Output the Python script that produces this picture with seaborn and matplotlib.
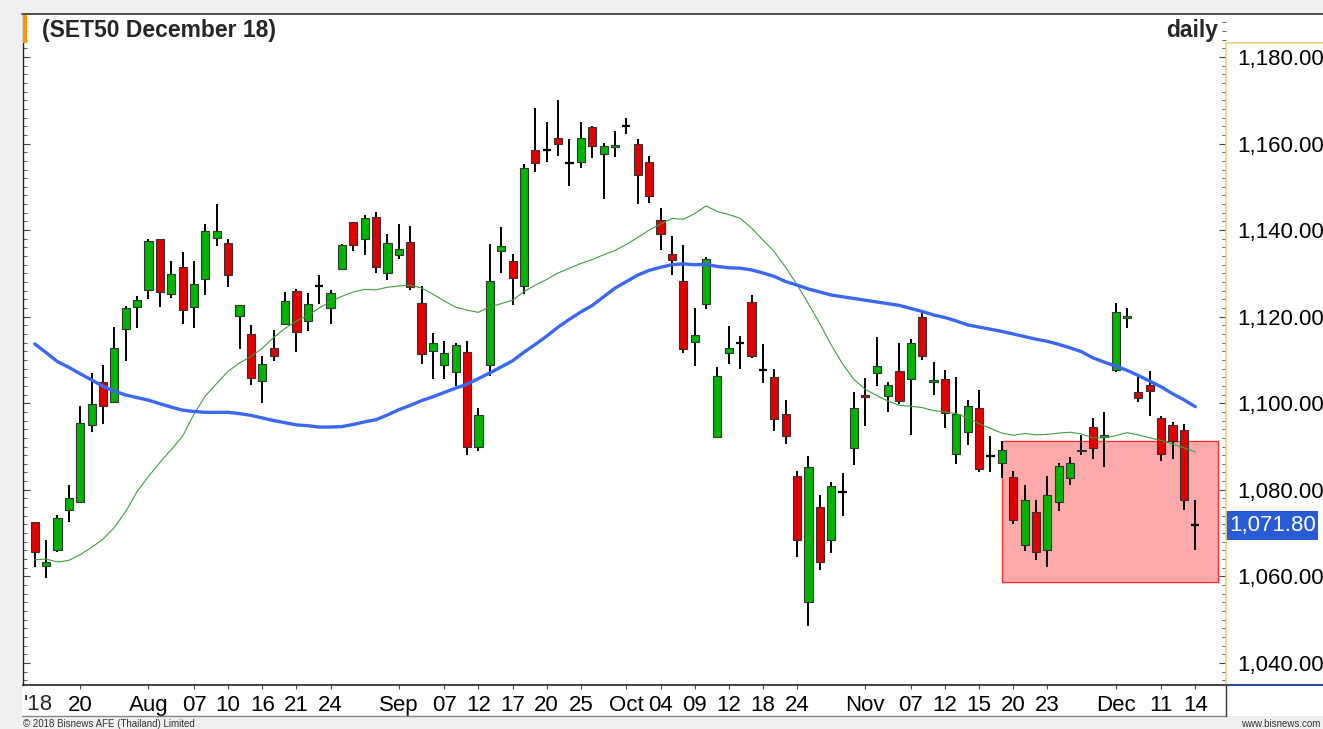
import numpy as np
import pandas as pd
import matplotlib
matplotlib.use("Agg")
import matplotlib.pyplot as plt
import matplotlib.transforms as mtransforms
from matplotlib.patches import Rectangle
from matplotlib.lines import Line2D
from matplotlib.ticker import MultipleLocator, FuncFormatter
import seaborn as sns

# trading days (Thai holidays skipped)
jul_days = [16, 17, 18, 19, 20, 23, 24, 25, 26, 31]
aug_days = [1, 2, 3, 6, 7, 8, 9, 10, 14, 15, 16, 17, 20, 21, 22, 23, 24, 27, 28, 29, 30, 31]
sep_days = [3, 4, 5, 6, 7, 10, 11, 12, 13, 14, 17, 18, 19, 20, 21, 24, 25, 26, 27, 28]
oct_days = [1, 2, 3, 4, 5, 8, 9, 10, 11, 12, 16, 17, 18, 19, 22, 24, 25, 26, 29, 30, 31]
nov_days = [1, 2, 5, 6, 7, 8, 9, 12, 13, 14, 15, 16, 19, 20, 21, 22, 23, 26, 27, 28, 29, 30]
dec_days = [3, 4, 6, 7, 11, 12, 13, 14]

# daily OHLC
open_ = [1072.5, 1062.5, 1066.2, 1075.4, 1077.1, 1095.0, 1104.9, 1100.3, 1117.1, 1122.2,
         1126.2, 1137.9, 1125.3, 1131.4, 1122.2, 1128.7, 1138.1, 1137.0, 1120.1, 1116.0,
         1105.1, 1112.8, 1118.2, 1125.9, 1119.0, 1127.0, 1121.9, 1131.0, 1141.9, 1137.9,
         1143.0, 1130.1, 1134.2, 1137.2, 1123.1, 1112.0, 1108.8, 1107.2, 1111.8, 1090.0,
         1108.9, 1135.1, 1132.9, 1127.2, 1158.5, 1158.5, 1161.2, 1155.4, 1155.8, 1163.9,
         1157.5, 1159.2, 1164.1, 1160.0, 1155.7, 1142.3, 1134.4, 1128.2, 1114.1, 1123.0,
         1092.2, 1111.5, 1113.9, 1123.4, 1107.7, 1106.1, 1097.4, 1083.3, 1054.0, 1076.0,
         1068.3, 1079.6, 1089.7, 1102.0, 1107.0, 1101.7, 1107.5, 1105.7, 1120.0, 1104.9,
         1105.7, 1088.2, 1093.3, 1099.0, 1087.7, 1086.3, 1083.0, 1067.2, 1074.9, 1066.2,
         1077.1, 1082.7, 1088.9, 1094.6, 1092.3, 1107.7, 1119.8, 1102.5, 1104.3, 1096.7,
         1095.0, 1093.8, 1071.8]
high = [1072.5, 1068.3, 1074.2, 1081.2, 1099.3, 1107.0, 1108.9, 1117.5, 1122.4, 1124.8,
        1137.9, 1137.9, 1132.8, 1135.0, 1132.8, 1141.4, 1146.1, 1137.9, 1122.8, 1118.1,
        1111.0, 1117.0, 1125.8, 1126.5, 1125.4, 1129.6, 1126.1, 1136.8, 1141.9, 1143.5,
        1144.2, 1139.1, 1141.4, 1141.0, 1127.1, 1116.3, 1114.3, 1114.0, 1114.3, 1099.0,
        1136.7, 1140.7, 1134.4, 1155.2, 1168.1, 1165.0, 1170.0, 1161.1, 1165.0, 1164.1,
        1160.2, 1162.9, 1166.0, 1161.0, 1157.2, 1145.0, 1138.6, 1136.5, 1122.1, 1133.9,
        1108.4, 1117.9, 1115.6, 1125.0, 1113.8, 1108.0, 1100.7, 1084.4, 1087.9, 1078.7,
        1081.9, 1083.9, 1102.7, 1105.8, 1115.3, 1105.0, 1114.0, 1114.8, 1121.1, 1109.6,
        1107.6, 1106.0, 1100.8, 1103.0, 1092.5, 1091.3, 1084.3, 1081.0, 1077.7, 1083.1,
        1086.3, 1087.5, 1092.6, 1096.6, 1098.0, 1123.1, 1122.0, 1106.0, 1107.4, 1097.1,
        1095.7, 1095.2, 1077.7]
low = [1062.2, 1059.6, 1065.7, 1072.5, 1077.1, 1093.4, 1095.2, 1100.3, 1109.7, 1117.3,
       1124.1, 1122.2, 1124.2, 1118.2, 1117.3, 1125.1, 1136.4, 1126.8, 1112.6, 1104.1,
       1100.1, 1109.7, 1118.2, 1111.9, 1116.8, 1123.0, 1118.4, 1130.8, 1135.1, 1134.2,
       1130.1, 1128.5, 1133.4, 1126.2, 1109.1, 1105.6, 1105.6, 1103.9, 1088.1, 1088.9,
       1106.4, 1130.1, 1122.6, 1125.2, 1153.4, 1155.7, 1157.2, 1150.1, 1154.4, 1156.7,
       1147.3, 1156.9, 1162.3, 1146.0, 1146.3, 1135.3, 1129.7, 1111.7, 1108.7, 1121.8,
       1092.0, 1109.0, 1108.0, 1110.5, 1104.6, 1093.7, 1090.5, 1064.5, 1048.5, 1061.5,
       1065.5, 1074.0, 1085.7, 1094.8, 1104.0, 1098.0, 1099.9, 1092.7, 1110.0, 1102.0,
       1094.3, 1085.9, 1090.3, 1084.0, 1084.2, 1082.7, 1072.0, 1065.8, 1063.7, 1062.2,
       1075.0, 1081.1, 1088.0, 1087.1, 1085.3, 1107.3, 1117.3, 1100.2, 1097.1, 1086.6,
       1087.1, 1075.4, 1066.2]
close = [1065.7, 1063.4, 1073.6, 1078.0, 1095.4, 1099.8, 1099.4, 1112.8, 1121.9, 1123.9,
         1137.4, 1125.8, 1129.8, 1121.6, 1127.5, 1139.8, 1139.9, 1129.6, 1122.6, 1105.8,
         1109.1, 1110.8, 1123.6, 1116.5, 1123.0, 1127.0, 1125.5, 1136.6, 1136.6, 1142.9,
         1131.4, 1137.0, 1135.7, 1126.8, 1111.4, 1113.9, 1111.7, 1113.5, 1090.0, 1097.3,
         1128.2, 1136.3, 1128.9, 1154.3, 1155.6, 1158.5, 1159.8, 1155.4, 1161.3, 1159.4,
         1159.4, 1159.6, 1164.1, 1152.8, 1147.8, 1139.2, 1133.0, 1112.6, 1115.7, 1133.3,
         1106.2, 1112.7, 1113.9, 1110.9, 1107.7, 1096.3, 1092.4, 1068.4, 1085.3, 1063.3,
         1080.8, 1079.6, 1099.0, 1101.4, 1108.5, 1104.2, 1100.5, 1113.9, 1110.8, 1105.3,
         1097.7, 1097.5, 1099.3, 1084.7, 1087.7, 1089.3, 1073.1, 1077.7, 1065.7, 1078.8,
         1085.6, 1086.2, 1089.3, 1089.6, 1092.7, 1121.1, 1120.2, 1101.2, 1102.9, 1088.3,
         1091.2, 1077.7, 1071.8]

# moving averages (thin green, thick blue)
ma_fast = [1063.8, 1064.0, 1063.3, 1063.7, 1065.0, 1066.7, 1068.6, 1071.3, 1075.0, 1079.6,
           1083.1, 1086.3, 1089.3, 1092.4, 1097.5, 1101.7, 1104.6, 1107.4, 1109.3, 1110.8,
           1112.7, 1115.2, 1117.3, 1119.0, 1120.3, 1122.0, 1123.5, 1124.7, 1125.7, 1126.3,
           1126.2, 1126.8, 1127.1, 1127.3, 1126.6, 1125.2, 1123.6, 1122.2, 1121.5, 1121.0,
           1122.3, 1123.0, 1123.8, 1125.8, 1127.3, 1128.6, 1130.1, 1131.2, 1132.3, 1133.2,
           1134.3, 1135.3, 1136.7, 1138.3, 1140.0, 1141.4, 1142.7, 1142.5, 1143.8, 1145.6,
           1144.3, 1143.6, 1142.7, 1140.5, 1137.7, 1135.0, 1131.4, 1127.4, 1123.0, 1118.4,
           1113.5, 1109.1, 1105.5, 1103.2, 1101.8, 1100.5, 1099.5, 1099.3, 1099.0, 1098.3,
           1098.0, 1097.6, 1096.6, 1095.3, 1094.2, 1093.1, 1092.6, 1093.0, 1092.7, 1092.8,
           1093.1, 1093.3, 1092.9, 1092.0, 1092.0, 1092.5, 1093.2, 1092.7, 1092.0, 1091.4,
           1090.6, 1089.7, 1088.8]
ma_slow = [1113.7, 1111.7, 1109.6, 1108.3, 1106.8, 1105.4, 1103.9, 1102.8, 1101.9, 1101.3,
           1100.7, 1099.9, 1099.1, 1098.4, 1098.1, 1097.9, 1097.9, 1097.9, 1097.6, 1097.2,
           1096.6, 1096.0, 1095.5, 1095.0, 1094.8, 1094.5, 1094.5, 1094.6, 1095.1, 1095.7,
           1096.2, 1097.3, 1098.5, 1099.5, 1100.6, 1101.5, 1102.5, 1103.5, 1104.4, 1105.7,
           1107.0, 1108.4, 1109.8, 1111.8, 1113.6, 1115.5, 1117.6, 1119.4, 1121.1, 1122.6,
           1124.6, 1126.6, 1128.1, 1129.6, 1130.7, 1131.4, 1132.0, 1132.2, 1132.0, 1132.1,
           1131.6, 1131.3, 1131.2, 1130.8, 1130.1, 1129.3, 1128.1, 1127.3, 1126.4, 1125.7,
           1125.0, 1124.6, 1124.2, 1123.8, 1123.4, 1123.0, 1122.6, 1121.9, 1121.2, 1120.4,
           1119.8, 1119.0, 1118.1, 1117.6, 1117.1, 1116.6, 1116.0, 1115.4, 1114.8, 1114.3,
           1113.6, 1112.8, 1111.9, 1110.5, 1109.5, 1108.6, 1107.6, 1106.4, 1105.1, 1103.8,
           1102.2, 1100.8, 1099.2]

tick_dates = ['2018-07-20', '2018-08-01', '2018-08-07', '2018-08-10', '2018-08-16', '2018-08-21',
              '2018-08-24', '2018-09-03', '2018-09-07', '2018-09-12', '2018-09-17', '2018-09-20',
              '2018-09-25', '2018-10-01', '2018-10-04', '2018-10-09', '2018-10-12', '2018-10-18',
              '2018-10-24', '2018-11-01', '2018-11-07', '2018-11-12', '2018-11-15', '2018-11-20',
              '2018-11-23', '2018-12-03', '2018-12-11', '2018-12-14']
tick_labels = ['20', 'Aug', '07', '10', '16', '21', '24', 'Sep', '07', '12', '17', '20', '25',
               'Oct', '04', '09', '12', '18', '24', 'Nov', '07', '12', '15', '20', '23',
               'Dec', '11', '14']

# highlighted box (from Nov 19 to past the last bar)
zone_start = '2018-11-19'
zone_lo, zone_hi = 1058.7, 1091.3
last_price = 1071.80

dates = ([f'2018-07-{d:02d}' for d in jul_days] + [f'2018-08-{d:02d}' for d in aug_days] +
         [f'2018-09-{d:02d}' for d in sep_days] + [f'2018-10-{d:02d}' for d in oct_days] +
         [f'2018-11-{d:02d}' for d in nov_days] + [f'2018-12-{d:02d}' for d in dec_days])

df = pd.DataFrame({'date': dates, 'open': open_, 'high': high, 'low': low, 'close': close,
                   'ma_fast': ma_fast, 'ma_slow': ma_slow})
df['i'] = np.arange(len(df))

sns.set_theme(style='white')
plt.rcParams['font.family'] = ['Liberation Sans', 'DejaVu Sans']

W, H = 1323, 729
fig = plt.figure(figsize=(W / 100, H / 100), dpi=100, facecolor='#f0f0f0')
fx = lambda px: px / W
fy = lambda py: 1 - py / H

# white chart panel + frame lines
fig.patches.append(Rectangle((fx(22), fy(716)), 1 - fx(22), fy(14) - fy(716),
                             transform=fig.transFigure, facecolor='white', edgecolor='none', zorder=-5))
fig.patches.append(Rectangle((fx(23), fy(43)), 4 / W, 28 / H, transform=fig.transFigure,
                             facecolor='#ff9900', edgecolor='none', zorder=5))
fig.add_artist(Line2D([fx(22), 1], [fy(14), fy(14)], color='#333333', lw=1.2))
fig.add_artist(Line2D([fx(1226), fx(1226)], [fy(43), fy(685)], color='#f3d27a', lw=1.2))
fig.add_artist(Line2D([fx(1226), 1], [fy(43), fy(43)], color='#f3d27a', lw=1.2))
fig.add_artist(Line2D([fx(1226), 1], [fy(685), fy(685)], color='#2d4a9a', lw=1.5))
fig.add_artist(Line2D([fx(22), fx(1226)], [fy(716), fy(716)], color='#888888', lw=1.0))
fig.add_artist(Line2D([fx(1226), fx(1226)], [fy(685), fy(716)], color='#333333', lw=1.0))

ax = fig.add_axes([fx(23), fy(685), fx(1226) - fx(23), fy(15) - fy(685)])
ax.set_facecolor('white')
ax.set_xlim(-1.03, 104.7)
ax.set_ylim(1034.9, 1189.7)

# highlighted zone
x0 = dates.index(zone_start)
ax.add_patch(Rectangle((x0, zone_lo), 104.0 - x0, zone_hi - zone_lo, facecolor='#ffaaaa',
                       edgecolor='#ff3030', lw=1.0, zorder=1))

# candles
o = df['open'].values
c = df['close'].values
idx = df['i'].values
body_lo = np.minimum(o, c)
body_h = np.abs(c - o)
doji = body_h < 0.05
colors = np.where(c >= o, '#00b400', '#e00000')
ax.vlines(idx, df['low'], df['high'], color='black', lw=1.4, zorder=2)
ax.bar(idx[~doji], body_h[~doji], bottom=body_lo[~doji], width=0.72, color=colors[~doji],
       edgecolor='#333333', linewidth=0.8, zorder=3)
ax.hlines(c[doji], idx[doji] - 0.36, idx[doji] + 0.36, color='black', lw=1.6, zorder=3)

# moving averages
sns.lineplot(data=df, x='i', y='ma_fast', ax=ax, color='#3f9f3f', lw=0.8, zorder=4)
sns.lineplot(data=df, x='i', y='ma_slow', ax=ax, color='#3b68f2', lw=2.4, zorder=4)
ax.set_xlabel('')
ax.set_ylabel('')

# axes styling
for s in ['top', 'right']:
    ax.spines[s].set_visible(False)
ax.spines['left'].set_color('#222222')
ax.spines['bottom'].set_color('#222222')
ax.spines['left'].set_linewidth(1.0)
ax.spines['bottom'].set_linewidth(1.2)

ax.yaxis.set_major_locator(MultipleLocator(20))
ax.yaxis.set_minor_locator(MultipleLocator(2))
ax.yaxis.set_major_formatter(FuncFormatter(lambda v, _: f'{v:,.2f}'))
ax.tick_params(axis='y', which='both', left=True, right=True, labelleft=False, labelright=True,
               direction='in', color='#444444')
ax.tick_params(axis='y', which='major', length=5, width=0.8, pad=8, labelsize=16, labelcolor='black')
ax.tick_params(axis='y', which='minor', length=3, width=0.6)

tick_pos = [dates.index(d) for d in tick_dates]
ax.set_xticks(tick_pos)
ax.set_xticklabels(tick_labels)
ax.tick_params(axis='x', which='major', bottom=True, direction='out', length=3, width=0.8,
               pad=4, labelsize=16, labelcolor='black', color='#444444')
ax.grid(False)

trans = mtransforms.blended_transform_factory(ax.transData, ax.transAxes)
ax.text(-0.95, -0.0285, "'18", transform=trans, ha='left', va='center', fontsize=16)

# titles
ax.text(0.0158, 0.9776, '(SET50 December 18)', transform=ax.transAxes, ha='left', va='center',
        fontsize=16.5, fontweight='bold')
ax.text(0.9934, 0.9776, 'daily', transform=ax.transAxes, ha='right', va='center',
        fontsize=16.5, fontweight='bold')

# last price tag on the right axis
tag = mtransforms.blended_transform_factory(ax.transAxes, ax.transData)
ax.add_patch(Rectangle((1.0, last_price - 3.35), (1318 - 1226) / 1203, 6.7, transform=tag,
                       facecolor='#2a5bd7', edgecolor='none', clip_on=False, zorder=6))
ax.text(1.0025, last_price, f'{last_price:,.2f}', transform=tag, ha='left', va='center',
        color='white', fontsize=16, zorder=7, clip_on=False)

# footer
fig.text(fx(23), fy(719), '\u00a9 2018 Bisnews AFE (Thailand) Limited', ha='left', va='top',
         fontsize=7, color='#333333')
fig.text(fx(1320), fy(719), 'www.bisnews.com', ha='right', va='top', fontsize=7, color='#333333')

fig.savefig('out.png', dpi=100, facecolor=fig.get_facecolor())
